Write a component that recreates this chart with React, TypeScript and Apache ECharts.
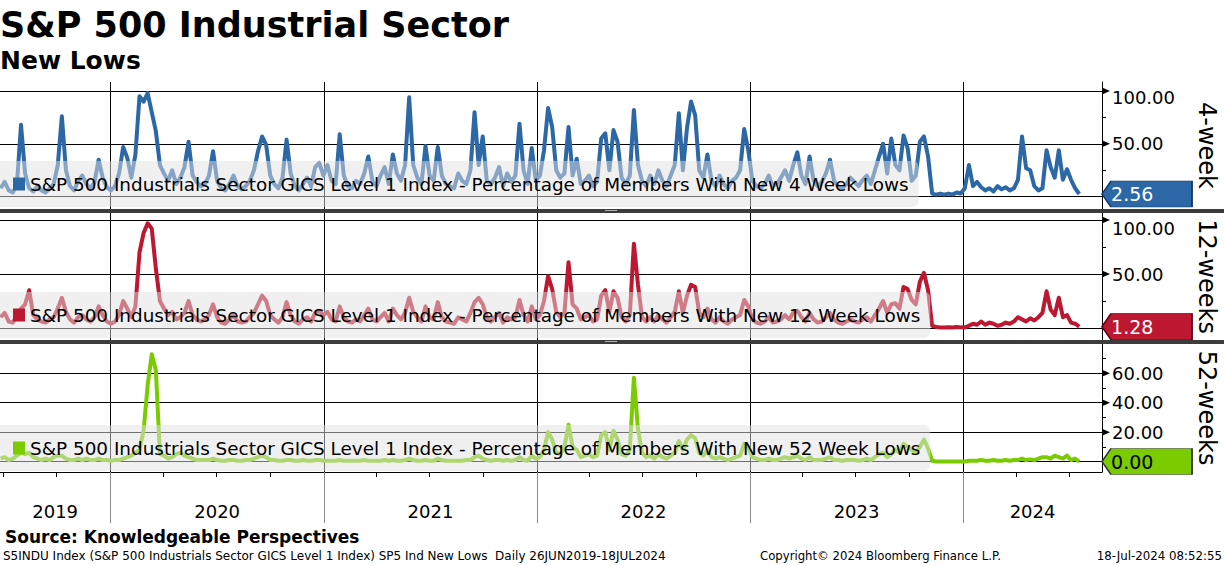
import React, { useEffect, useRef } from "react";
import * as echarts from "echarts";

const FONT = "'DejaVu Sans', Verdana, sans-serif";

// ---------- data ----------
const FIRST_WEEK = "2019-06-27"; // weekly observations, one every 7 days
const AXIS_START = "2019-06-26";
const AXIS_END = "2024-08-26";
const YEAR_STARTS = ["2020-01-01", "2021-01-01", "2022-01-01", "2023-01-01", "2024-01-01"];
const QUARTER_TICKS = [
  "2019-07-01", "2019-10-01",
  "2020-04-01", "2020-07-01", "2020-10-01",
  "2021-04-01", "2021-07-01", "2021-10-01",
  "2022-04-01", "2022-07-01", "2022-10-01",
  "2023-04-01", "2023-07-01", "2023-10-01",
  "2024-04-01", "2024-07-01",
];

const SERIES_NAMES = [
  "S&P 500 Industrials Sector GICS Level 1 Index - Percentage of Members With New 4 Week Lows",
  "S&P 500 Industrials Sector GICS Level 1 Index - Percentage of Members With New 12 Week Lows",
  "S&P 500 Industrials Sector GICS Level 1 Index - Percentage of Members With New 52 Week Lows",
];
const PANEL_TITLES = ["4-week", "12-weeks", "52-weeks"];

const NEW_LOWS_4W = [
  8, 14, 6, 4, 12, 68, 22, 8, 5, 10,
  6, 4, 8, 12, 30, 76, 25, 10, 6, 15,
  20, 12, 8, 14, 35, 18, 9, 6, 10, 22,
  47, 37, 18, 40, 95, 90, 98, 80, 62, 30,
  22, 15, 25, 12, 18, 28, 52, 20, 14, 10,
  12, 20, 43, 15, 8, 6, 12, 20, 10, 7,
  10, 15, 25, 43, 57, 49, 20, 12, 8, 18,
  54, 22, 10, 6, 12, 18, 10, 28, 32, 20,
  30, 15, 12, 59, 20, 10, 8, 15, 12, 22,
  38, 15, 10, 20, 28, 12, 40, 22, 15, 30,
  94, 30, 18, 12, 48, 20, 15, 47, 20, 12,
  10, 8, 22, 15, 12, 25, 80, 30, 57, 15,
  12, 18, 28, 10, 22, 14, 20, 69, 25, 12,
  46, 15, 20, 44, 84, 66, 25, 18, 22, 66,
  20, 36, 12, 15, 20, 10, 14, 55, 60, 25,
  63, 52, 18, 12, 20, 82, 30, 15, 10, 20,
  12, 25, 15, 10, 20, 30, 79, 25, 65, 90,
  77, 25, 18, 40, 15, 10, 20, 12, 8, 15,
  18, 25, 64, 44, 15, 10, 8, 12, 20, 10,
  12, 18, 25, 15, 30, 42, 20, 12, 38, 15,
  10, 14, 22, 35, 15, 10, 8, 12, 18, 14,
  10, 16, 20, 12, 25, 38, 50, 22, 55, 30,
  25, 58, 46, 15, 20, 52, 57, 38, 3, 2,
  3, 2, 3, 2, 4, 3, 8, 30, 10, 14,
  9, 6, 8, 5, 10, 7, 9, 6, 8, 16,
  57, 27, 25, 10, 6, 8, 44, 28, 18, 44,
  16, 26, 16, 8, 2.56,
];

const NEW_LOWS_12W = [
  10, 14, 6, 5, 12, 18, 22, 35, 12, 8,
  6, 5, 8, 10, 18, 28, 15, 8, 5, 10,
  12, 8, 6, 10, 20, 12, 6, 4, 6, 12,
  25, 18, 10, 20, 70, 88, 97, 92, 55, 25,
  18, 12, 15, 8, 10, 14, 25, 12, 8, 6,
  8, 12, 22, 10, 5, 4, 8, 12, 6, 5,
  6, 10, 14, 22, 30, 25, 12, 8, 5, 10,
  24, 12, 6, 4, 8, 10, 6, 14, 16, 12,
  15, 8, 6, 20, 10, 6, 5, 8, 6, 12,
  18, 8, 6, 10, 14, 6, 18, 12, 8, 14,
  28, 15, 10, 6, 20, 10, 8, 24, 10, 6,
  5, 4, 10, 8, 6, 14, 24, 28, 22, 10,
  6, 10, 14, 5, 10, 8, 10, 26, 12, 6,
  20, 8, 12, 25, 48, 36, 15, 10, 14, 61,
  22, 18, 8, 10, 12, 6, 8, 30, 35, 15,
  34, 28, 10, 6, 12, 78, 40, 10, 6, 10,
  6, 12, 8, 5, 10, 15, 34, 14, 30, 40,
  38, 14, 10, 18, 8, 5, 10, 6, 4, 8,
  10, 12, 26, 20, 8, 5, 4, 6, 10, 5,
  6, 8, 12, 8, 14, 16, 10, 6, 14, 8,
  5, 6, 10, 14, 8, 5, 4, 6, 8, 6,
  5, 8, 10, 6, 12, 18, 25, 14, 22, 23,
  18, 38, 36, 26, 22, 43, 51, 35, 2, 1,
  0.5, 0.5, 0.8, 0.5, 1, 0.6, 0.5, 2, 4, 3,
  6, 3, 5, 4, 2, 3, 5, 4, 6, 10,
  8, 6, 9, 7, 10, 14, 34, 17, 12, 28,
  10, 12, 5, 4, 1.28,
];

const NEW_LOWS_52W = [
  2, 3, 1, 2, 4, 6, 5, 6, 3, 2,
  1, 2, 1, 3, 4, 4, 2, 1, 1, 2,
  1, 2, 1, 1, 2, 1, 1, 0.5, 1, 1,
  2, 3, 4, 6, 8, 21, 52, 73, 62, 5,
  4, 2, 3, 5, 6, 4, 3, 2, 1, 1,
  1, 1, 2, 1, 0.5, 0.5, 1, 1, 0.5, 0.5,
  1, 1, 2, 3, 4, 3, 1, 1, 0.5, 0.5,
  1, 1, 0.5, 0.5, 1, 0.5, 0.5, 1, 1, 0.5,
  0.5, 0.5, 0.5, 1, 0.5, 0.5, 0.5, 0.5, 0.5, 1,
  0.5, 0.5, 0.5, 0.5, 1, 0.5, 1, 0.5, 0.5, 1,
  2, 1, 0.5, 0.5, 1, 0.5, 0.5, 2, 1, 0.5,
  0.5, 0.5, 0.5, 0.5, 1, 1, 3, 4, 2, 1,
  0.5, 1, 1, 0.5, 1, 0.5, 1, 3, 1, 0.5,
  4, 2, 3, 8, 20, 15, 6, 5, 10, 25,
  10, 8, 3, 4, 5, 3, 4, 18, 20, 8,
  21, 15, 5, 4, 8, 57, 22, 6, 3, 4,
  2, 5, 3, 2, 4, 6, 14, 8, 15, 18,
  16, 6, 4, 8, 3, 2, 3, 2, 1, 2,
  3, 4, 12, 10, 3, 2, 1, 1, 2, 1,
  1, 2, 3, 2, 3, 4, 2, 1, 3, 1,
  1, 1, 2, 3, 1, 1, 0.5, 1, 1, 1,
  0.5, 1, 2, 1, 3, 5, 6, 3, 5, 8,
  6, 12, 10, 8, 6, 10, 15, 9, 0.5, 0,
  0, 0, 0, 0, 0, 0, 0, 0.5, 0.5, 0.5,
  1, 0.5, 0.5, 1, 0.5, 0.5, 1, 0.5, 1, 1,
  2, 1, 1.5, 1, 2, 3, 3, 2, 4, 3,
  2, 4, 1, 2, 0,
];

// axis ranges and tick values
const Y_RANGE_4W = [-11.6, 108.5];
const Y_RANGE_12W = [-11.1, 106.5];
const Y_RANGE_52W = [-7.1, 79.9];
const GRID_TICKS_4W = [0, 50, 100];
const GRID_TICKS_12W = [0, 50, 100];
const GRID_TICKS_52W = [0, 20, 40, 60];
const LABEL_TICKS_4W = [50, 100];
const LABEL_TICKS_12W = [50, 100];
const LABEL_TICKS_52W = [20, 40, 60];
const MINOR_TICKS_4W = [25, 75];
const MINOR_TICKS_12W = [25, 75];
const MINOR_TICKS_52W = [10, 30, 50, 70];

// ---------- layout / style ----------
const W = 1224;
const H = 566;
const GRID_RIGHT = 122;
const LAYOUT = [
  { top: 82, height: 127, legendTop: 161, labelShift: 13 },
  { top: 213, height: 127, legendTop: 292, labelShift: 17 },
  { top: 344, height: 128, legendTop: 425, labelShift: 0 },
];
const STYLE = [
  { line: "#2c67a6", border: "#163a62", text: "#ffffff" },
  { line: "#bd1731", border: "#5c0a17", text: "#ffffff" },
  { line: "#7acc00", border: "#333333", text: "#000000" },
];

const ts = (d: string) => Date.parse(d + "T00:00:00Z");
const DAY = 86400000;

function weekly(values: number[]) {
  const s = ts(FIRST_WEEK);
  return values.map((v, i) => [s + i * 7 * DAY, v]);
}

function buildOption() {
  const xMin = ts(AXIS_START);
  const xMax = ts(AXIS_END);
  const yearTs = YEAR_STARTS.map(ts);
  const bounds = [xMin, ...yearTs, xMax];
  const yearMids = bounds.slice(0, -1).map((b, i) => (b + bounds[i + 1]) / 2);
  const quarterTs = QUARTER_TICKS.map(ts);

  const panels = [
    { values: NEW_LOWS_4W, range: Y_RANGE_4W, grid: GRID_TICKS_4W, labels: LABEL_TICKS_4W, minor: MINOR_TICKS_4W },
    { values: NEW_LOWS_12W, range: Y_RANGE_12W, grid: GRID_TICKS_12W, labels: LABEL_TICKS_12W, minor: MINOR_TICKS_12W },
    { values: NEW_LOWS_52W, range: Y_RANGE_52W, grid: GRID_TICKS_52W, labels: LABEL_TICKS_52W, minor: MINOR_TICKS_52W },
  ];

  const grids = LAYOUT.map((l) => ({
    left: 0,
    right: GRID_RIGHT,
    top: l.top,
    height: l.height,
    containLabel: false,
    outerBoundsMode: "none",
  }));

  const xAxes: any[] = LAYOUT.map((_, i) => {
    const isBottom = i === LAYOUT.length - 1;
    return {
      type: "value",
      gridIndex: i,
      min: xMin,
      max: xMax,
      axisLine: { show: isBottom, onZero: false, lineStyle: { color: "#000", width: 1 } },
      axisTick: { show: isBottom, customValues: yearTs, length: 51, lineStyle: { color: "#8c8c8c", width: 1 } },
      axisLabel: {
        show: isBottom,
        customValues: yearMids,
        formatter: (v: number) => String(new Date(v).getUTCFullYear()),
        margin: 30,
        fontSize: 18,
        fontFamily: FONT,
        color: "#000",
      },
      splitLine: { show: true, lineStyle: { color: "#000", width: 1 } },
    };
  });
  xAxes.push({
    type: "value",
    gridIndex: LAYOUT.length - 1,
    position: "bottom",
    min: xMin,
    max: xMax,
    axisLine: { show: false, onZero: false },
    axisTick: { show: true, customValues: quarterTs, length: 5, lineStyle: { color: "#000", width: 1 } },
    axisLabel: { show: false },
    splitLine: { show: false },
  });

  const yAxes: any[] = panels.map((p, i) => {
    const shift = LAYOUT[i].labelShift;
    const top = p.labels[p.labels.length - 1];
    return {
      type: "value",
      gridIndex: i,
      position: "right",
      min: p.range[0],
      max: p.range[1],
      axisLine: { show: true, onZero: false, lineStyle: { color: "#000", width: 1 } },
      axisTick: { show: false, customValues: p.grid },
      axisLabel: {
        customValues: p.labels,
        margin: 10,
        fontSize: 18,
        fontFamily: FONT,
        color: "#000",
        formatter: (v: number) => (shift && v === top ? `{lo|${v.toFixed(2)}}` : v.toFixed(2)),
        rich: { lo: { padding: [shift, 0, 0, 0], fontSize: 18, fontFamily: FONT, color: "#000" } },
      },
      splitLine: { show: true, lineStyle: { color: "#000", width: 1 } },
    };
  });
  panels.forEach((p, i) => {
    yAxes.push({
      type: "value",
      gridIndex: i,
      position: "right",
      min: p.range[0],
      max: p.range[1],
      axisLine: { show: false, onZero: false },
      axisTick: { show: true, customValues: p.minor, length: 4, lineStyle: { color: "#000", width: 1 } },
      axisLabel: { show: false },
      splitLine: { show: false },
    });
  });

  const series = panels.map((p, i) => {
    const st = STYLE[i];
    const last = p.values[p.values.length - 1];
    return {
      type: "line",
      name: SERIES_NAMES[i],
      xAxisIndex: i,
      yAxisIndex: i,
      data: weekly(p.values),
      showSymbol: false,
      symbol: "none",
      clip: false,
      silent: true,
      emphasis: { disabled: true },
      itemStyle: { color: st.line },
      lineStyle: { color: st.line, width: 4, join: "round" },
      markPoint: {
        silent: true,
        animation: false,
        data: [
          {
            coord: [xMax, last],
            value: last,
            symbol: "path://M0,13L9,0L90,0L90,26L9,26Z",
            symbolKeepAspect: false,
            symbolSize: [90, 26],
            symbolOffset: [45, 0],
            itemStyle: { color: st.line, borderColor: st.border, borderWidth: 1 },
            label: {
              show: true,
              position: "insideLeft",
              distance: 10,
              formatter: (d: any) => Number(d.value).toFixed(2),
              color: st.text,
              fontSize: 19,
              fontFamily: FONT,
            },
          },
          ...p.labels.map((v) => ({
            coord: [xMax, v],
            value: v,
            symbol: "triangle",
            symbolSize: [7, 8],
            symbolRotate: -90,
            symbolOffset: [4, 0],
            itemStyle: { color: "#000" },
            label: { show: false },
          })),
        ],
      },
    };
  });

  const legends = LAYOUT.map((l, i) => ({
    data: [SERIES_NAMES[i]],
    left: 0,
    top: l.legendTop,
    orient: "horizontal",
    padding: [14, 10, 14, 13],
    itemWidth: 12,
    itemHeight: 13,
    icon: "rect",
    selectedMode: false,
    backgroundColor: "rgba(225,225,225,0.5)",
    borderRadius: [0, 6, 6, 0],
    itemStyle: { borderWidth: 0 },
    textStyle: { fontSize: 18.4, fontFamily: FONT, color: "#000" },
  }));

  const graphics: any[] = [];
  for (let i = 0; i < LAYOUT.length - 1; i++) {
    const y = LAYOUT[i].top + LAYOUT[i].height;
    const h = LAYOUT[i + 1].top - y;
    graphics.push({ type: "rect", x: 0, y, z: 20, shape: { width: W, height: h }, style: { fill: "#3c3c3c" } });
    graphics.push({ type: "rect", x: 605, y: y + h / 2 - 1, z: 21, shape: { width: 12, height: 1 }, style: { fill: "#b0b0b0" } });
  }
  LAYOUT.forEach((l, i) => {
    graphics.push({
      type: "text",
      x: 1207,
      y: l.top + l.height / 2,
      rotation: -Math.PI / 2,
      z: 20,
      style: {
        text: PANEL_TITLES[i],
        fontSize: 24,
        fontFamily: FONT,
        fill: "#000",
        align: "center",
        verticalAlign: "middle",
      },
    });
  });

  const titleStyle = (size: number, bold: boolean) => ({
    fontSize: size,
    fontWeight: bold ? "bold" : "normal",
    fontFamily: FONT,
    color: "#000",
  });

  return {
    animation: false,
    backgroundColor: "#ffffff",
    title: [
      { text: "S&P 500 Industrial Sector", left: 0, top: 7, padding: 0, textStyle: titleStyle(35, true) },
      { text: "New Lows", left: 0, top: 48, padding: 0, textStyle: titleStyle(25, true) },
      { text: "Source: Knowledgeable Perspectives", left: 5, top: 528, padding: 0, textStyle: titleStyle(17, true) },
      {
        text: "S5INDU Index (S&P 500 Industrials Sector GICS Level 1 Index) SP5 Ind New Lows  Daily 26JUN2019-18JUL2024",
        left: 3,
        top: 550,
        padding: 0,
        textStyle: titleStyle(12, false),
      },
      { text: "Copyright\u00a9 2024 Bloomberg Finance L.P.", left: 760, top: 550, padding: 0, textStyle: titleStyle(11.7, false) },
      { text: "18-Jul-2024 08:52:55", right: 2, top: 550, padding: 0, textStyle: titleStyle(11.8, false) },
    ],
    legend: legends,
    grid: grids,
    xAxis: xAxes,
    yAxis: yAxes,
    series,
    graphic: graphics,
  };
}

export default function App() {
  const ref = useRef<HTMLDivElement>(null);
  useEffect(() => {
    if (!ref.current) return;
    const chart = echarts.init(ref.current, null, { renderer: "svg" });
    chart.setOption(buildOption() as any);
    return () => chart.dispose();
  }, []);
  return (
    <div
      ref={ref}
      style={{ position: "fixed", left: 0, top: 0, width: W, height: H, background: "#ffffff" }}
    />
  );
}
